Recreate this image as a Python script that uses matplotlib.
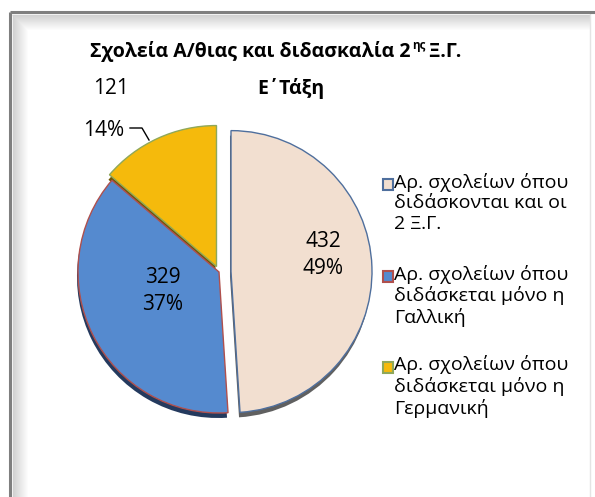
import matplotlib
matplotlib.use("Agg")
import matplotlib.pyplot as plt
from matplotlib.patches import Rectangle

# ---- data ----
categories = [
    "Αρ. σχολείων όπου\nδιδάσκονται και οι\n2 Ξ.Γ.",
    "Αρ. σχολείων όπου\nδιδάσκεται μόνο η\nΓαλλική",
    "Αρ. σχολείων όπου\nδιδάσκεται μόνο η\nΓερμανική",
]
values = [432, 329, 121]
title_main = "Σχολεία Α/θιας και διδασκαλία 2"
title_sup = "ης"
title_tail = " Ξ.Γ."
title_line2 = "Ε΄Τάξη"

# ---- style ----
face_colors = ["#F2DFD0", "#558ACF", "#F5BA0C"]
edge_colors = ["#4F6F9D", "#B0504D", "#8FA85A"]
shadow_colors = ["#606060", "#243A5E", "#6E5400"]
explode_px = [12, 0, 6]

W, H = 595, 497
plt.rcParams["font.family"] = ["Open Sans", "Noto Sans", "DejaVu Sans"]
fig = plt.figure(figsize=(W / 100, H / 100), dpi=100)
fig.patch.set_facecolor("white")
ax = fig.add_axes([0, 0, 1, 1])

# ---- pie (y axis inverted: counterclock=True draws clockwise on screen) ----
cx, cy, r = 219, 272, 141
ax.pie(values, colors=shadow_colors, explode=explode_px, startangle=-90,
       counterclock=True, center=(cx - 1, cy + 5), radius=r,
       wedgeprops=dict(linewidth=0), frame=True)
wedges, _ = ax.pie(values, colors=face_colors, explode=explode_px, startangle=-90,
                   counterclock=True, center=(cx, cy), radius=r,
                   wedgeprops=dict(linewidth=1.0), frame=True)
for w, ec in zip(wedges, edge_colors):
    w.set_edgecolor(ec)
ax.set_xlim(0, W)
ax.set_ylim(H, 0)
ax.set_aspect("auto")
ax.axis("off")

# ---- frame with bevel ----
for i in range(16):
    t = i / 15
    g = 0.82 + 0.18 * t
    ax.plot([12 + i, 590], [15 + i, 15 + i], color=(g, g, g), lw=1, solid_capstyle="butt", zorder=0)
    ax.plot([13 + i, 13 + i], [15 + i, H], color=(g, g, g), lw=1, solid_capstyle="butt", zorder=0)
ax.plot([10, 595], [12, 12], color="#7F7F7F", lw=2.2, solid_capstyle="butt")
ax.plot([10, 10], [12, H], color="#7F7F7F", lw=2.2, solid_capstyle="butt")
ax.plot([590, 590], [14, H], color="#E4E4E4", lw=1, zorder=0)

total = sum(values)
pcts = [round(100 * v / total) for v in values]
lab_fs = 15
ax.text(323, 255, f"{values[0]}\n{pcts[0]}%", ha="center", va="center",
        fontsize=lab_fs, linespacing=1.4, color="black")
ax.text(163, 291, f"{values[1]}\n{pcts[1]}%", ha="center", va="center",
        fontsize=lab_fs, linespacing=1.4, color="black")
ax.text(111, 89, f"{values[2]}", ha="center", va="center", fontsize=lab_fs, color="black")
ax.text(104, 130, f"{pcts[2]}%", ha="center", va="center", fontsize=lab_fs, color="black")
ax.plot([130, 142, 149], [128, 128, 140], color="black", lw=1)

# ---- title with superscript ----
fig.canvas.draw()
renderer = fig.canvas.get_renderer()
tfs = 14
base1 = 57
t1 = ax.text(0, base1, title_main, fontsize=tfs, fontweight="bold", va="baseline")
t2 = ax.text(0, base1 - 8, title_sup, fontsize=tfs * 0.6, fontweight="bold", va="baseline")
t3 = ax.text(0, base1, title_tail, fontsize=tfs, fontweight="bold", va="baseline")
w1 = t1.get_window_extent(renderer).width
w2 = t2.get_window_extent(renderer).width
w3 = t3.get_window_extent(renderer).width
x0 = 276 - (w1 + w2 + w3) / 2
t1.set_x(x0)
t2.set_x(x0 + w1 + 1)
t3.set_x(x0 + w1 + w2)
ax.text(291, 94, title_line2, fontsize=tfs, fontweight="bold", ha="center", va="baseline")

# ---- legend ----
leg_fs = 14
entry_y = [184, 276, 367]
for y, lab, fc, ec in zip(entry_y, categories, face_colors, edge_colors):
    ax.add_patch(Rectangle((383, y - 5.5), 10, 11, facecolor=fc, edgecolor=ec, lw=1.5))
    ax.text(394, y - 11.5, lab, fontsize=leg_fs, va="top", ha="left", linespacing=1.18)

fig.savefig("out.png", dpi=100)
